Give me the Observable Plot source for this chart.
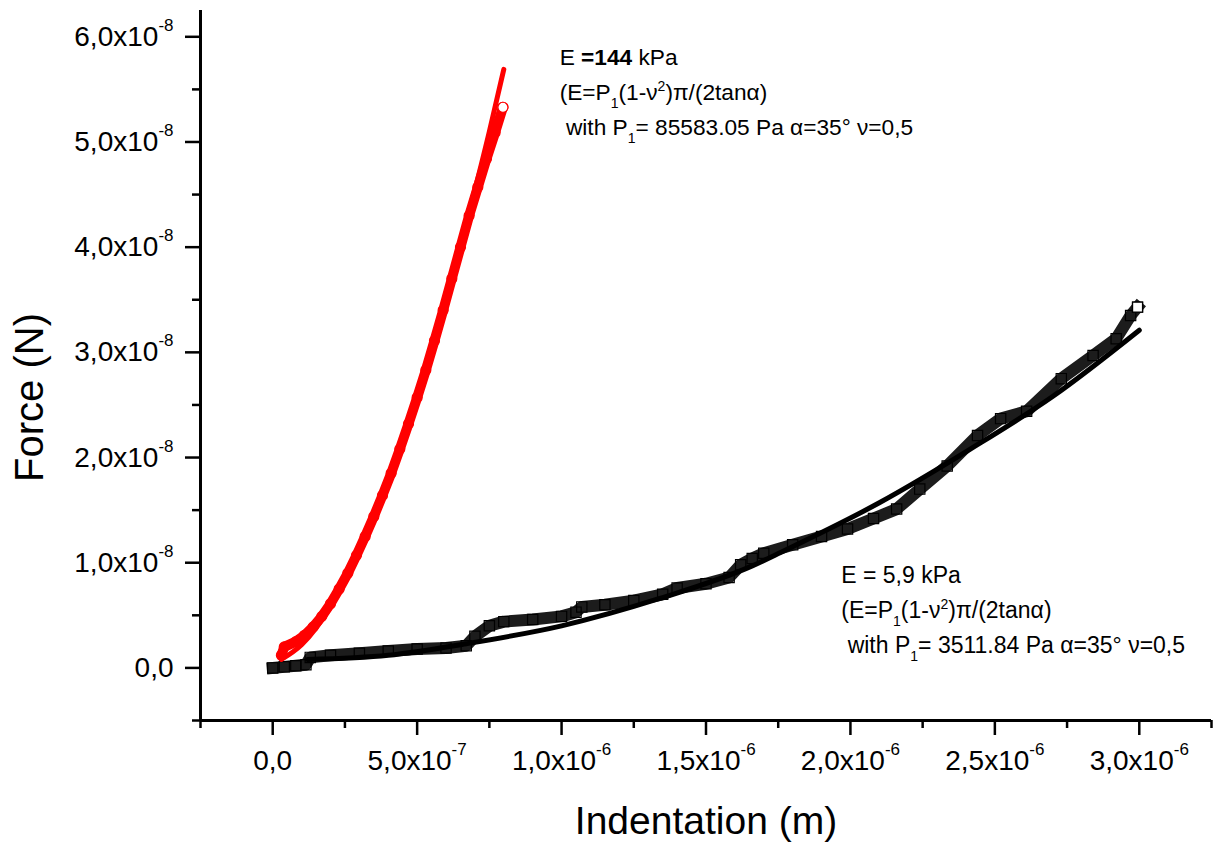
<!DOCTYPE html>
<html>
<head>
<meta charset="utf-8">
<script src="https://cdn.jsdelivr.net/npm/d3@7"></script>
<script src="https://cdn.jsdelivr.net/npm/@observablehq/plot@0.6"></script>
<style>
  html, body { margin: 0; padding: 0; background: #fff; overflow: hidden; }
  #chart svg { display: block; }
</style>
</head>
<body>
<div id="chart"></div>
<script>
// ---- Data (indentation in µm, force in 1e-8 N) ----
const redIndent = [0.03, 0.04, 0.08, 0.11, 0.14, 0.17, 0.20, 0.23, 0.26, 0.29, 0.32, 0.35, 0.38, 0.41, 0.44, 0.47, 0.50, 0.53, 0.56, 0.59, 0.62, 0.65, 0.68, 0.71, 0.74, 0.77, 0.797];
const redForce  = [0.12, 0.20, 0.25, 0.31, 0.39, 0.49, 0.61, 0.75, 0.90, 1.07, 1.25, 1.44, 1.64, 1.85, 2.08, 2.32, 2.57, 2.83, 3.11, 3.40, 3.70, 4.00, 4.30, 4.57, 4.84, 5.09, 5.33];

const redFitIndent = [0.03, 0.10, 0.20, 0.30, 0.40, 0.50, 0.60, 0.68, 0.70, 0.75, 0.80];
const redFitForce  = [0.08, 0.22, 0.58, 1.10, 1.75, 2.55, 3.45, 4.35, 4.55, 5.10, 5.69];

const blackIndent = [0.00, 0.04, 0.08, 0.115, 0.13, 0.20, 0.30, 0.40, 0.50, 0.60, 0.67, 0.70, 0.75, 0.80, 0.90, 1.00, 1.05, 1.07, 1.15, 1.25, 1.35, 1.40, 1.50, 1.58, 1.62, 1.66, 1.70, 1.80, 1.90, 1.99, 2.08, 2.16, 2.24, 2.335, 2.44, 2.52, 2.61, 2.73, 2.84, 2.92, 2.97, 2.994];
const blackForce  = [0.00, 0.01, 0.02, 0.03, 0.10, 0.12, 0.14, 0.16, 0.18, 0.19, 0.21, 0.30, 0.40, 0.44, 0.46, 0.49, 0.53, 0.58, 0.60, 0.64, 0.70, 0.76, 0.80, 0.86, 0.98, 1.04, 1.09, 1.17, 1.25, 1.32, 1.42, 1.51, 1.70, 1.92, 2.21, 2.37, 2.44, 2.75, 2.97, 3.13, 3.35, 3.43];

const blackFitIndent = [0.12, 0.40, 0.67, 1.00, 1.34, 1.66, 1.76, 2.10, 2.415, 2.70, 3.00];
const blackFitForce  = [0.08, 0.12, 0.23, 0.40, 0.66, 0.97, 1.10, 1.57, 2.08, 2.58, 3.21];

// ---- Axes ----
const xDomain = [-2.5e-7, 3.25e-6];
const yDomain = [-0.5e-8, 6.25e-8];
const xTicks = [0, 5e-7, 1e-6, 1.5e-6, 2e-6, 2.5e-6, 3e-6];
const xTickMantissa = ["0,0", "5,0", "1,0", "1,5", "2,0", "2,5", "3,0"];
const xTickExp = ["", "-7", "-6", "-6", "-6", "-6", "-6"];
const xMinorTicks = [-2.5e-7, 2.5e-7, 7.5e-7, 1.25e-6, 1.75e-6, 2.25e-6, 2.75e-6, 3.25e-6];
const yTicks = [0, 1e-8, 2e-8, 3e-8, 4e-8, 5e-8, 6e-8];
const yTickMantissa = ["0,0", "1,0", "2,0", "3,0", "4,0", "5,0", "6,0"];
const yTickExp = ["", "-8", "-8", "-8", "-8", "-8", "-8"];
const yMinorTicks = [-0.5e-8, 0.5e-8, 1.5e-8, 2.5e-8, 3.5e-8, 4.5e-8, 5.5e-8];
const xLabel = "Indentation (m)";
const yLabel = "Force (N)";

// ---- Annotations (anchor in data units, first-line baseline) ----
const topNoteAt = [0.995e-6, 5.73e-8];
const topNote = [
  [["E ", "n"], ["=144", "b"], [" kPa", "n"]],
  [["(E=P", "n"], ["1", "sub"], ["(1-ν", "n"], ["2", "sup"], [")π/(2tanα)", "n"]],
  [[" with P", "n"], ["1", "sub"], ["= 85583.05 Pa α=35° ν=0,5", "n"]]
];
const bottomNoteAt = [1.97e-6, 0.80e-8];
const bottomNote = [
  [["E = 5,9 kPa", "n"]],
  [["(E=P", "n"], ["1", "sub"], ["(1-ν", "n"], ["2", "sup"], [")π/(2tanα)", "n"]],
  [[" with P", "n"], ["1", "sub"], ["= 3511.84 Pa α=35° ν=0,5", "n"]]
];

// ---- Build tables ----
const toRows = (xs, ys) => xs.map((d, i) => ({x: d * 1e-6, y: ys[i] * 1e-8}));
const red = toRows(redIndent, redForce);
const redFit = toRows(redFitIndent, redFitForce);
const black = toRows(blackIndent, blackForce);
const blackFit = toRows(blackFitIndent, blackFitForce);

const xLab = new Map(xTicks.map((t, i) => [t, xTickMantissa[i] + (xTickExp[i] ? "x10^" + xTickExp[i] : "")]));
const yLab = new Map(yTicks.map((t, i) => [t, yTickMantissa[i] + (yTickExp[i] ? "x10^" + yTickExp[i] : "")]));

const font = "'Liberation Sans', Arial, Helvetica, sans-serif";

const plot = Plot.plot({
  width: 1215,
  height: 850,
  marginLeft: 200,
  marginRight: 4,
  marginTop: 10,
  marginBottom: 130,
  style: {fontFamily: font, background: "#fff", color: "#000"},
  x: {domain: xDomain, label: null},
  y: {domain: yDomain, label: null},
  marks: [
    Plot.ruleX([xDomain[0]], {stroke: "#000", strokeWidth: 3}),
    Plot.ruleY([yDomain[0]], {stroke: "#000", strokeWidth: 3}),
    Plot.axisX({ticks: xMinorTicks, anchor: "bottom", tickSize: 8, strokeWidth: 2.5, tickFormat: () => "", label: null}),
    Plot.axisX({ticks: xTicks, anchor: "bottom", tickSize: 15, strokeWidth: 2.5, tickPadding: 15, fontSize: 28, tickFormat: d => xLab.get(d), label: null}),
    Plot.axisY({ticks: yMinorTicks, anchor: "left", tickSize: 8, strokeWidth: 2.5, tickFormat: () => "", label: null}),
    Plot.axisY({ticks: yTicks, anchor: "left", tickSize: 15, strokeWidth: 2.5, tickPadding: 12, fontSize: 28, tickFormat: d => yLab.get(d), label: null}),
    Plot.line(black, {x: "x", y: "y", stroke: "#1c1c1c", strokeWidth: 12, strokeLinejoin: "round", strokeLinecap: "square"}),
    Plot.dot(black, {x: "x", y: "y", symbol: "square", r: 5.8, stroke: "#000", strokeWidth: 1.2, fill: "none"}),
    Plot.dot(black.slice(-1), {x: "x", y: "y", symbol: "square", r: 5.6, stroke: "#000", strokeWidth: 1.2, fill: "#fff"}),
    Plot.line(red, {x: "x", y: "y", stroke: "#ff0000", strokeWidth: 10, strokeLinejoin: "round", strokeLinecap: "round"}),
    Plot.dot(red, {x: "x", y: "y", symbol: "circle", r: 5, stroke: "#ff0000", strokeWidth: 1.2, fill: "none"}),
    Plot.dot(red.slice(-1), {x: "x", y: "y", symbol: "circle", r: 5, stroke: "#ff0000", strokeWidth: 1.2, fill: "#fff"}),
    Plot.line(blackFit, {x: "x", y: "y", stroke: "#000", strokeWidth: 5, curve: "monotone-x", strokeLinecap: "round"}),
    Plot.line(redFit, {x: "x", y: "y", stroke: "#ff0000", strokeWidth: 5, curve: "monotone-x", strokeLinecap: "round"}),
    Plot.text([yLabel], {frameAnchor: "left", rotate: -90, dx: -170, dy: 32, fontSize: 40, textAnchor: "middle", lineAnchor: "middle", fill: "#000"}),
    Plot.text([xLabel], {frameAnchor: "bottom", dy: 101, fontSize: 39, textAnchor: "middle", lineAnchor: "middle", fill: "#000"})
  ]
});

document.getElementById("chart").appendChild(plot);

// superscript exponents in tick labels
d3.select(plot).selectAll("text").each(function () {
  const t = this.textContent;
  if (t.includes("^")) {
    const [m, e] = t.split("^");
    const sel = d3.select(this);
    sel.text(null);
    sel.append("tspan").text(m);
    sel.append("tspan").attr("dy", -15).attr("font-size", 17).text(e);
  }
});

// annotations
const sx = plot.scale("x"), sy = plot.scale("y");
function addNote(at, lines, size) {
  const g = d3.select(plot).append("g")
    .attr("font-family", font).attr("font-size", size).attr("fill", "#000")
    .attr("text-anchor", "start");
  const x0 = sx.apply(at[0]), y0 = sy.apply(at[1]);
  lines.forEach((segs, i) => {
    const t = g.append("text").attr("x", x0).attr("y", y0 + i * 35)
      .attr("text-anchor", "start")
      .attr("xml:space", "preserve").style("white-space", "pre");
    let shift = 0;
    segs.forEach(([s, k]) => {
      const target = k === "sub" ? 8 : k === "sup" ? -9 : 0;
      const ts = t.append("tspan").text(s);
      if (target !== shift) ts.attr("dy", target - shift);
      shift = target;
      if (k === "sub" || k === "sup") ts.attr("font-size", 14);
      if (k === "b") ts.attr("font-weight", "bold");
    });
  });
}
addNote(topNoteAt, topNote, 22.7);
addNote(bottomNoteAt, bottomNote, 23);
</script>
</body>
</html>
